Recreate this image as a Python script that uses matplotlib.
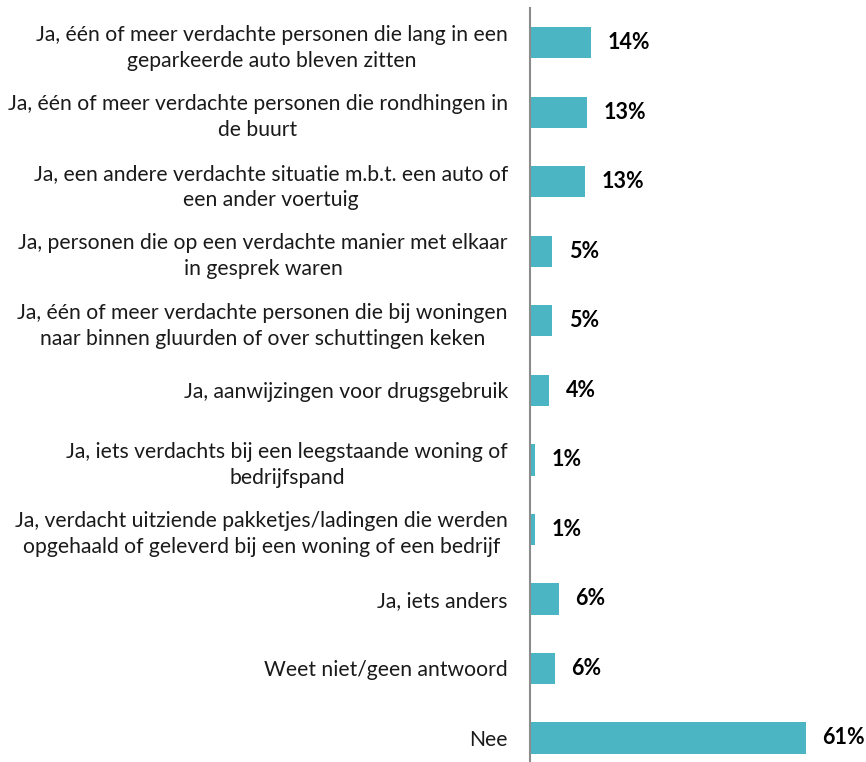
import matplotlib
matplotlib.use('Agg')
import matplotlib.pyplot as plt

plt.rcParams['font.family'] = ['Lato', 'DejaVu Sans']

# categories, top to bottom
categories = [
    'Ja, één of meer verdachte personen die lang in een\ngeparkeerde auto bleven zitten',
    'Ja, één of meer verdachte personen die rondhingen in\nde buurt',
    'Ja, een andere verdachte situatie m.b.t. een auto of\neen ander voertuig',
    'Ja, personen die op een verdachte manier met elkaar\nin gesprek waren',
    'Ja, één of meer verdachte personen die bij woningen\nnaar binnen gluurden of over schuttingen keken',
    'Ja, aanwijzingen voor drugsgebruik',
    'Ja, iets verdachts bij een leegstaande woning of\nbedrijfspand',
    'Ja, verdacht uitziende pakketjes/ladingen die werden\nopgehaald of geleverd bij een woning of een bedrijf',
    'Ja, iets anders',
    'Weet niet/geen antwoord',
    'Nee',
]
values = [13.5, 12.6, 12.2, 4.9, 4.9, 4.2, 1.2, 1.1, 6.4, 5.5, 61.0]
value_labels = ['14%', '13%', '13%', '5%', '5%', '4%', '1%', '1%', '6%', '6%', '61%']

bar_color = '#4BB5C4'

fig = plt.figure(figsize=(8.66, 7.62), dpi=100)
ax = fig.add_axes([0.612, -0.0141, 0.348, 1.0036])

y = list(range(len(categories)))
ax.barh(y, values, height=0.45, color=bar_color)
ax.set_ylim(len(categories) - 0.5, -0.5)
ax.set_xlim(0, 66.7)

for yi, v, lab in zip(y, values, value_labels):
    ax.annotate(lab, (v, yi), xytext=(12, 0), textcoords='offset points',
                va='center', ha='left', fontsize=15.5, fontweight='bold',
                color='#000000')

ax.set_yticks(y)
ax.set_yticklabels(categories, fontsize=15.2, color='#1a1a1a',
                   linespacing=1.38, multialignment='center')
ax.tick_params(axis='y', length=0, pad=16)
ax.set_xticks([])

for side in ['top', 'right', 'bottom']:
    ax.spines[side].set_visible(False)
ax.spines['left'].set_color('#8c8c8c')
ax.spines['left'].set_linewidth(1.5)

fig.savefig('out.png', dpi=100)
